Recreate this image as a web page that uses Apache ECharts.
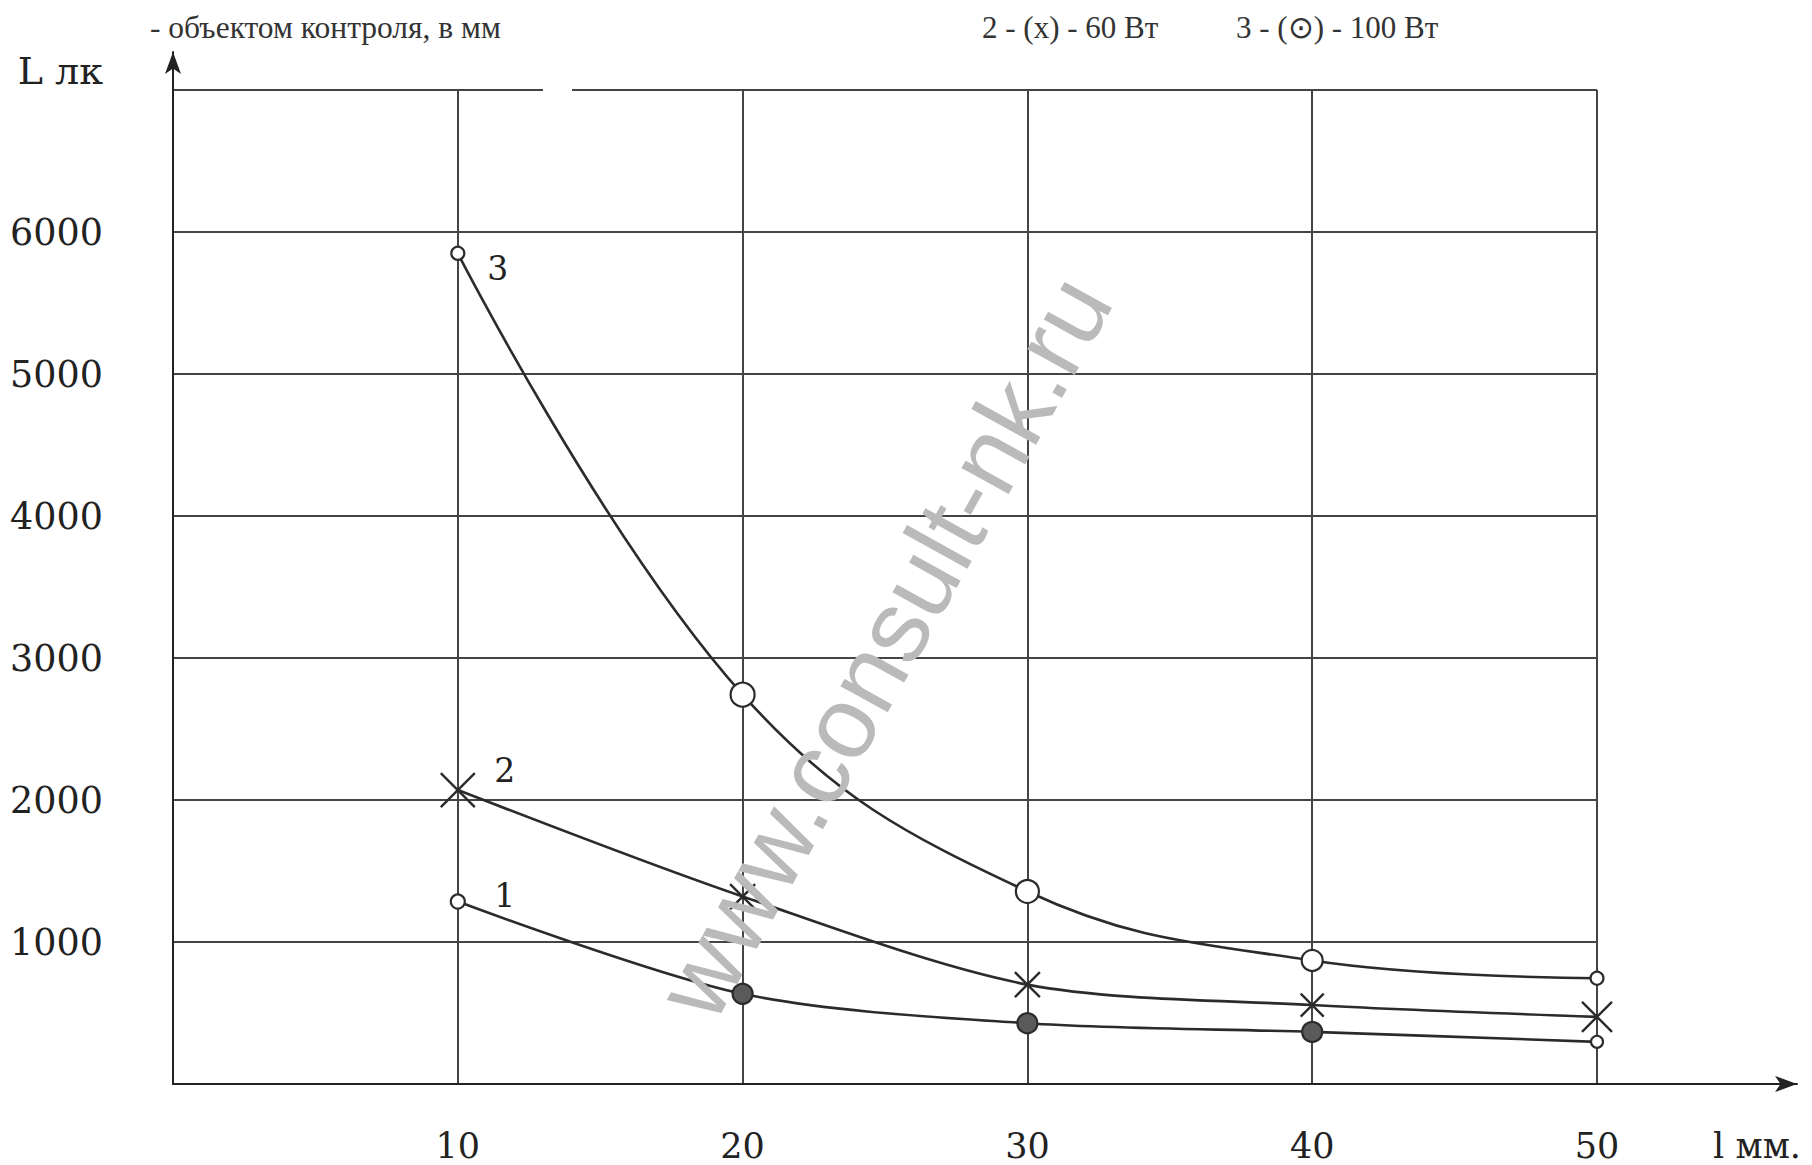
<!DOCTYPE html>
<html><head><meta charset="utf-8">
<script src="https://cdn.jsdelivr.net/npm/echarts/dist/echarts.min.js"></script>
<style>html,body{margin:0;padding:0;background:#fff}#c{width:1812px;height:1165px}</style>
</head><body><div id="c"></div>
<script>
// ---- data ----
const X_VALUES = [10, 20, 30, 40, 50];           // l, mm
const CURVE_1 = [1285, 635, 428, 367, 297];      // L, lx
const CURVE_2 = [2070, 1320, 700, 556, 473];
const CURVE_3 = [5850, 2742, 1356, 870, 745];
const CURVE_NAMES = ['1', '2', '3'];
const Y_MIN = 0, Y_MAX = 7000, Y_STEP = 1000;
const X_MIN = 0, X_MAX = 50, X_STEP = 10;
const Y_AXIS_NAME = 'L лк';
const X_AXIS_NAME = 'l мм.';
const CAPTION = '- объектом контроля, в мм';
const NOTE_2 = '2 - (x) - 60 Вт';
const NOTE_3 = '3 - (⊙) - 100 Вт';
const WATERMARK = 'www.consult-nk.ru';

// ---- styles ----
const INK = '#2b2b2b';
const GRIDC = '#444';
const NUMFONT = 'DejaVu Serif';
const TXTFONT = 'Liberation Serif';
const SIZE_1 = [14, 20, 20, 20, 12];
const FILLED_1 = [false, true, true, true, false];
const SIZE_2 = [34, 25, 25, 23, 30];
const SIZE_3 = [13, 24, 23, 21, 13];
const CROSS = 'path://M0,0L10,10M10,0L0,10';

const pairs = arr => X_VALUES.map((x, i) => [x, arr[i]]);

function firstLabel(name, offset) {
  return {
    show: true, position: 'inside', offset: offset,
    formatter: p => p.dataIndex === 0 ? name : '',
    color: '#222', fontFamily: NUMFONT, fontSize: 33
  };
}

const chart = echarts.init(document.getElementById('c'), null, {renderer: 'svg'});
chart.setOption({
  animation: false,
  backgroundColor: '#fff',
  grid: [
    {left: 173, right: 215, top: 90, bottom: 81, outerBoundsMode: 'none', containLabel: false},
    {left: 173, right: 15, top: 52, bottom: 81, outerBoundsMode: 'none', containLabel: false}
  ],
  xAxis: [
    {
      gridIndex: 0, type: 'value', min: X_MIN, max: X_MAX, interval: X_STEP,
      axisLine: {show: false}, axisTick: {show: false},
      splitLine: {show: true, lineStyle: {color: GRIDC, width: 2}},
      axisLabel: {show: true, showMinLabel: false, margin: 44, color: '#222', fontFamily: NUMFONT, fontSize: 35,
                  formatter: v => String(v)}
    },
    {
      gridIndex: 1, type: 'value', min: 0, max: 1,
      axisLine: {show: true, symbol: ['none', 'arrow'], symbolSize: [12, 22], lineStyle: {color: '#222', width: 2}},
      axisTick: {show: false}, axisLabel: {show: false}, splitLine: {show: false},
      name: X_AXIS_NAME, nameLocation: 'end', nameGap: 4,
      nameTextStyle: {align: 'right', verticalAlign: 'top', padding: [44, 0, 0, 0], color: '#222', fontFamily: NUMFONT, fontSize: 35}
    }
  ],
  yAxis: [
    {
      gridIndex: 0, type: 'value', min: Y_MIN, max: Y_MAX, interval: Y_STEP,
      axisLine: {show: false}, axisTick: {show: false},
      splitLine: {show: true, lineStyle: {color: GRIDC, width: 2}},
      axisLabel: {show: true, showMinLabel: false, showMaxLabel: false, margin: 70, color: '#222', fontFamily: NUMFONT, fontSize: 36.5,
                  formatter: v => String(v)}
    },
    {
      gridIndex: 1, type: 'value', min: 0, max: 1,
      axisLine: {show: true, symbol: ['none', 'arrow'], symbolSize: [12, 22], lineStyle: {color: '#222', width: 2}},
      axisTick: {show: false}, axisLabel: {show: false}, splitLine: {show: false},
      name: Y_AXIS_NAME, nameLocation: 'end', nameGap: -19,
      nameTextStyle: {align: 'right', verticalAlign: 'middle', padding: [0, 70, 0, 0], color: '#222', fontFamily: NUMFONT, fontSize: 38}
    }
  ],
  series: [
    {
      type: 'line', name: CURVE_NAMES[0], xAxisIndex: 0, yAxisIndex: 0,
      data: pairs(CURVE_1), smooth: 0.3, showAllSymbol: true,
      symbol: 'circle', symbolSize: (v, p) => SIZE_1[p.dataIndex],
      lineStyle: {color: INK, width: 2.6},
      itemStyle: {color: p => FILLED_1[p.dataIndex] ? '#5a5a5a' : '#fff', borderColor: INK, borderWidth: 2.2},
      label: firstLabel(CURVE_NAMES[0], [47, -6]),
      emphasis: {disabled: true}, z: 3
    },
    {
      type: 'line', name: CURVE_NAMES[1], xAxisIndex: 0, yAxisIndex: 0,
      data: pairs(CURVE_2), smooth: 0.3, showAllSymbol: true,
      symbol: CROSS, symbolSize: (v, p) => SIZE_2[p.dataIndex],
      lineStyle: {color: INK, width: 2.6},
      itemStyle: {color: 'rgba(0,0,0,0)', borderColor: INK, borderWidth: 2.4},
      label: firstLabel(CURVE_NAMES[1], [47, -20]),
      emphasis: {disabled: true}, z: 3
    },
    {
      type: 'line', name: CURVE_NAMES[2], xAxisIndex: 0, yAxisIndex: 0,
      data: pairs(CURVE_3), smooth: 0.4, showAllSymbol: true,
      symbol: 'circle', symbolSize: (v, p) => SIZE_3[p.dataIndex],
      lineStyle: {color: INK, width: 2.6},
      itemStyle: {color: '#fff', borderColor: INK, borderWidth: 2.2},
      label: firstLabel(CURVE_NAMES[2], [40, 15]),
      emphasis: {disabled: true}, z: 3
    }
  ],
  graphic: [
    {type: 'rect', shape: {x: 543, y: 84, width: 29, height: 12}, style: {fill: '#fff'}, z: 50},
    {type: 'text', x: 150, y: 27, style: {text: CAPTION, font: '31.5px "' + TXTFONT + '"', fill: '#333', verticalAlign: 'middle'}, z: 50},
    {type: 'text', x: 982, y: 27, style: {text: NOTE_2, font: '31px "' + TXTFONT + '"', fill: '#333', verticalAlign: 'middle'}, z: 50},
    {type: 'text', x: 1236, y: 27, style: {text: NOTE_3, font: '31px "' + TXTFONT + '"', fill: '#333', verticalAlign: 'middle'}, z: 50},
    {type: 'text', x: 884, y: 647, rotation: Math.PI * 61 / 180,
     style: {text: WATERMARK, font: '102px "Liberation Sans"', fill: '#bababa', align: 'center', verticalAlign: 'middle'}, z: 60}
  ]
});
</script></body></html>
